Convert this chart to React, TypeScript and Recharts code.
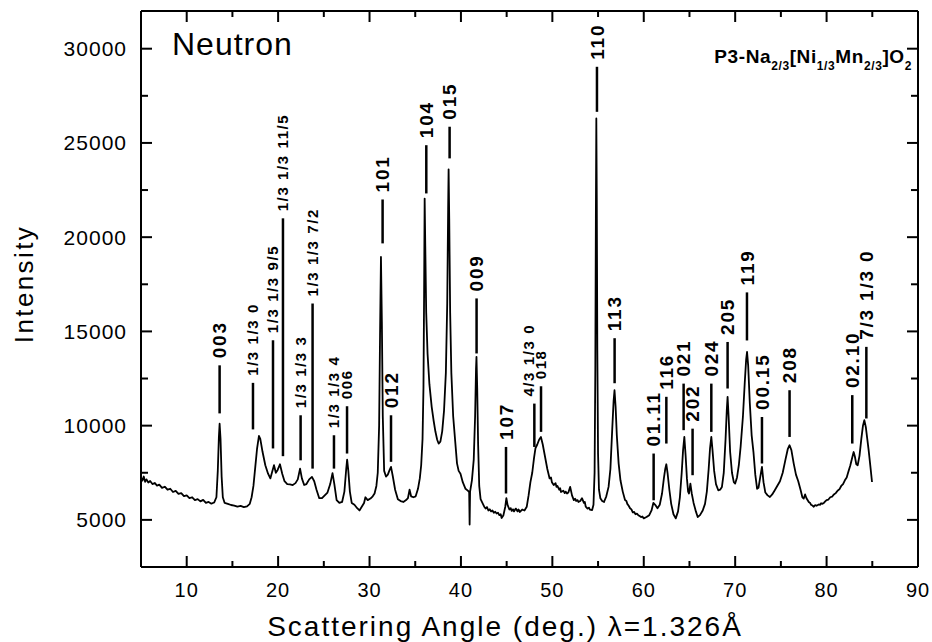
import React from 'react';
import { ComposedChart, Line, XAxis, YAxis, ReferenceLine } from 'recharts';

const FONT = 'Arial, "Liberation Sans", Helvetica, sans-serif';

/* ---------- diffraction pattern: [2θ (deg), counts] ---------- */
const lowAngle: [number, number][] = [
  [5.0, 7250], [5.15, 7080], [5.3, 7300], [5.45, 7020], [5.6, 7150], [5.8, 6980],
  [6.0, 7060], [6.25, 6900], [6.5, 6960], [6.75, 6820], [7.0, 6870], [7.3, 6700],
  [7.6, 6760], [7.9, 6600], [8.2, 6650], [8.5, 6480], [8.8, 6540], [9.1, 6380],
  [9.4, 6420], [9.7, 6260], [10.0, 6300], [10.3, 6150], [10.6, 6200], [10.9, 6050],
  [11.2, 6100], [11.5, 5980], [11.8, 6060], [12.1, 5900], [12.4, 5950], [12.7, 5860],
  [13.0, 5920], [13.25, 6200], [13.4, 7600], [13.52, 9400], [13.6, 10100], [13.7, 9300],
  [13.82, 7300], [13.95, 6200], [14.15, 5900], [14.5, 5850], [14.85, 5790], [15.2, 5760],
  [15.55, 5700], [15.9, 5740], [16.25, 5680], [16.6, 5720], [16.9, 5850], [17.1, 6200],
  [17.3, 6800], [17.5, 7800], [17.7, 8800], [17.9, 9450], [18.05, 9300], [18.3, 8600],
  [18.6, 7900], [18.9, 7450], [19.15, 7200], [19.35, 7550], [19.55, 7900], [19.75, 7500],
  [19.95, 7650], [20.2, 7950], [20.45, 7450], [20.7, 7050], [21.0, 6900], [21.3, 6880],
  [21.6, 6850], [21.9, 6950], [22.15, 7150], [22.4, 7720], [22.6, 7200], [22.85, 6850],
  [23.1, 6900], [23.4, 7150], [23.7, 7280], [23.95, 7050], [24.2, 6600], [24.5, 6150],
  [24.8, 6150], [25.1, 6300], [25.4, 6450], [25.7, 6900], [25.95, 7480], [26.15, 6900],
  [26.4, 6050], [26.7, 5900], [27.0, 5950], [27.25, 6500], [27.45, 7700], [27.55, 8200],
  [27.68, 7600], [27.85, 6500], [28.05, 5900], [28.35, 5800], [28.65, 5620], [28.9, 5500],
  [29.15, 5700], [29.4, 5900], [29.55, 6200], [29.8, 6050], [30.1, 6130], [30.35, 6250],
  [30.55, 6400], [30.75, 6800], [30.9, 7500],
];

const midAngle: [number, number][] = [
  [31.05, 10000], [31.15, 14800], [31.25, 18950], [31.35, 15500], [31.45, 10500], [31.6, 7600],
  [31.8, 7300], [32.0, 7400], [32.2, 7650], [32.35, 7810], [32.55, 7300], [32.8, 6600],
  [33.1, 6100], [33.4, 6000], [33.7, 5950], [34.0, 6050], [34.2, 6150], [34.38, 6600],
  [34.55, 6250], [34.8, 6200], [35.05, 6250], [35.3, 6650], [35.5, 7200], [35.65, 7900],
  [35.8, 9300], [35.9, 12000], [35.97, 17000], [36.03, 22050], [36.1, 19500], [36.2, 16000],
  [36.35, 13800], [36.55, 12200], [36.8, 11000], [37.0, 10300], [37.2, 9700], [37.4, 9250],
  [37.56, 9050], [37.75, 9150], [37.95, 9700], [38.15, 10800], [38.35, 12800], [38.5, 16500],
  [38.6, 21500], [38.65, 23600], [38.72, 21000], [38.82, 16000], [38.95, 12800], [39.15, 10500],
  [39.35, 9300], [39.57, 8000], [39.75, 7600], [39.95, 7450], [40.2, 7000], [40.5, 6650],
  [40.75, 6550], [40.9, 6480], [40.95, 4750], [41.0, 6500], [41.2, 7100], [41.4, 8200],
  [41.55, 10500], [41.65, 13000], [41.7, 13650], [41.78, 12000], [41.88, 9000], [42.0, 6800],
  [42.15, 6100], [42.4, 5850], [42.55, 5700], [42.7, 5600], [42.85, 5680], [43.0, 5500],
  [43.15, 5560], [43.3, 5450], [43.45, 5500], [43.6, 5380], [43.75, 5430], [43.9, 5340],
  [44.05, 5380], [44.2, 5250], [44.35, 5300], [44.45, 5100], [44.65, 5250], [44.85, 5700],
  [44.97, 6150], [45.1, 5800], [45.3, 5550], [45.45, 5620], [45.55, 5480], [45.7, 5560],
  [45.8, 5450], [46.0, 5600], [46.2, 5450], [46.3, 5550], [46.45, 5420], [46.7, 5550],
  [46.95, 5500], [47.2, 5700], [47.4, 6300], [47.6, 7000], [47.8, 7500], [48.0, 8300],
  [48.15, 8800], [48.35, 9000], [48.55, 9250], [48.75, 9400], [48.95, 9000], [49.2, 8350],
  [49.45, 7700], [49.7, 7200], [49.85, 7250], [49.95, 7000], [50.15, 6850], [50.35, 6950],
  [50.45, 6750], [50.55, 6800], [50.75, 6600], [50.85, 6680], [50.95, 6480], [51.2, 6550],
  [51.35, 6420], [51.45, 6500], [51.6, 6400], [51.75, 6450], [51.95, 6750], [52.15, 6300],
  [52.35, 6050], [52.5, 6120], [52.6, 6000], [52.75, 6050], [52.85, 5950], [53.05, 6000],
  [53.24, 6150], [53.45, 5900], [53.55, 5950], [53.65, 5700], [53.85, 5600], [54.0, 5650],
  [54.1, 5550], [54.35, 5520], [54.5, 5800], [54.62, 7500], [54.7, 13000], [54.76, 21000],
  [54.81, 26300], [54.86, 22000], [54.92, 14000], [55.0, 8500], [55.1, 6600], [55.25, 6150],
  [55.45, 6000], [55.65, 5950], [55.9, 6250], [56.15, 6750], [56.35, 7700], [56.55, 9800],
  [56.7, 11300], [56.8, 11880], [56.92, 11000], [57.05, 9500], [57.25, 8000], [57.45, 7100],
  [57.7, 6500], [57.95, 6050], [58.1, 6000], [58.2, 5850], [58.35, 5750], [58.5, 5620],
  [58.65, 5560], [58.8, 5400], [58.95, 5420], [59.1, 5300], [59.25, 5330], [59.4, 5250],
  [59.55, 5200], [59.7, 5150], [59.85, 5180], [60.0, 5080],
];

const highAngle: [number, number][] = [
  [60.3, 5150], [60.6, 5250], [60.85, 5500], [61.05, 5900], [61.25, 5800], [61.5, 5620],
  [61.75, 5800], [62.0, 6400], [62.2, 7200], [62.35, 7700], [62.47, 7950], [62.6, 7500],
  [62.8, 6600], [63.0, 5850], [63.25, 5300], [63.5, 5080], [63.75, 5450], [63.95, 6200],
  [64.15, 7500], [64.3, 8700], [64.44, 9400], [64.58, 8400], [64.72, 7200], [64.85, 6500],
  [64.95, 6400], [65.1, 6925], [65.25, 6400], [65.45, 5900], [65.7, 5450], [65.9, 5150],
  [66.15, 5250], [66.45, 5500], [66.7, 5850], [66.9, 6500], [67.1, 7700], [67.25, 8800],
  [67.39, 9400], [67.52, 8700], [67.7, 7600], [67.9, 6900], [68.15, 6570], [68.35, 6600],
  [68.55, 6750], [68.75, 7500], [68.95, 9300], [69.08, 10800], [69.17, 11525], [69.28, 10500],
  [69.45, 8600], [69.65, 7500], [69.85, 7000], [70.0, 6925], [70.2, 7250], [70.4, 7900],
  [70.6, 8900], [70.85, 10500], [71.05, 12300], [71.2, 13500], [71.3, 13910], [71.42, 13200],
  [71.6, 11200], [71.8, 9500], [72.0, 8600], [72.2, 7400], [72.4, 6650], [72.55, 6700],
  [72.75, 7300], [72.93, 7810], [73.1, 7000], [73.3, 6450], [73.55, 6300], [73.8, 6215],
  [74.05, 6350], [74.3, 6550], [74.6, 6800], [74.9, 7050], [75.2, 7500], [75.5, 8200],
  [75.75, 8750], [75.95, 8960], [76.15, 8700], [76.4, 8000], [76.65, 7400], [76.9, 7050],
  [77.15, 6600], [77.35, 6200], [77.5, 6130], [77.65, 6350], [77.8, 6150], [78.05, 5950],
  [78.2, 5900], [78.3, 5800], [78.45, 5760], [78.6, 5700], [78.75, 5780], [78.9, 5750],
  [79.15, 5820], [79.3, 5800], [79.4, 5880], [79.55, 5850], [79.7, 5900], [79.85, 5980],
  [80.0, 6050], [80.2, 6080], [80.4, 6200], [80.6, 6230], [80.8, 6350], [81.0, 6420],
  [81.2, 6550], [81.4, 6620], [81.6, 6800], [81.8, 6900], [82.0, 7100], [82.2, 7250],
  [82.35, 7500], [82.6, 7900], [82.8, 8300], [82.96, 8600], [83.1, 8350], [83.25, 7950],
  [83.4, 7900], [83.6, 8400], [83.8, 9300], [83.98, 10000], [84.13, 10290], [84.3, 9900],
  [84.45, 9300], [84.6, 8700], [84.8, 7800], [84.97, 7010],
];

/* ---------- reflection markers: [hkl, 2θ, marker bottom, marker top] ---------- */
const reflections: [string, number, number, number][] = [
  ['003', 13.6, 10650, 13200],
  ['1/3 1/3 0', 17.25, 9800, 12270],
  ['1/3 1/3 9/5', 19.44, 8790, 14530],
  ['1/3 1/3 11/5', 20.53, 8380, 21000],
  ['1/3 1/3 3', 22.46, 8160, 10550],
  ['1/3 1/3 7/2', 23.77, 7720, 16480],
  ['1/3 1/3 4', 26.11, 7720, 9490],
  ['006', 27.54, 8520, 11030],
  ['101', 31.43, 19670, 22000],
  ['012', 32.35, 8080, 10550],
  ['104', 36.21, 22320, 24880],
  ['015', 38.76, 24180, 25860],
  ['009', 41.71, 13830, 16750],
  ['107', 44.93, 6400, 8870],
  ['4/3 1/3 0', 48.03, 8870, 11170],
  ['018', 48.76, 9670, 12090],
  ['110', 54.88, 26650, 29040],
  ['113', 56.81, 12250, 14640],
  ['01.11', 61.08, 6040, 8520],
  ['116', 62.47, 9050, 11530],
  ['021', 64.36, 9760, 12230],
  ['202', 65.34, 7370, 9840],
  ['024', 67.39, 9670, 12230],
  ['205', 69.17, 11970, 14440],
  ['119', 71.29, 14520, 17070],
  ['00.15', 72.93, 7990, 10460],
  ['208', 75.95, 9400, 11880],
  ['02.10', 82.81, 9050, 11620],
  ['7/3 1/3 0', 84.35, 10380, 14180],
];

/* superlattice / weak reflections get the smaller font */
const smallLabels = new Set([
  '1/3 1/3 0', '1/3 1/3 9/5', '1/3 1/3 11/5', '1/3 1/3 3', '1/3 1/3 7/2',
  '1/3 1/3 4', '006', '4/3 1/3 0', '018',
]);
const labelNudge: Record<string, number> = { '4/3 1/3 0': -6 };

const xMajor = [10, 20, 30, 40, 50, 60, 70, 80, 90];
const xMinor = [15, 25, 35, 45, 55, 65, 75, 85];
const yMajor = [5000, 10000, 15000, 20000, 25000, 30000];
const yMinor = [7500, 12500, 17500, 22500, 27500];

const xTicks = [...xMajor, ...xMinor].sort((a, b) => a - b);
const yTicks = [...yMajor, ...yMinor].sort((a, b) => a - b);

const spectrum = [...lowAngle, ...midAngle, ...highAngle].map(([angle, counts]) => ({ angle, counts }));

/* ---------- frame layout ---------- */
const W = 932;
const H = 642;
// the mirrored top / right axes get 1px so recharts still draws them
const M = { top: 10, right: 13, bottom: 0, left: 0 };
const Y_AXIS_W = 141;
const X_AXIS_H = 75;
const FRAME_L = M.left + Y_AXIS_W;
const FRAME_R = W - M.right - 1;
const FRAME_T = M.top + 1;
const FRAME_B = H - M.bottom - X_AXIS_H;

/* ---------- tick renderers (ticks point into the frame) ---------- */
const BottomTick = ({ x, payload }: any) => {
  const major = xMajor.includes(payload.value);
  return (
    <g>
      <line x1={x} x2={x} y1={FRAME_B} y2={FRAME_B - (major ? 11 : 6)} stroke="#000" strokeWidth={2} />
      {major && (
        <text x={x} y={FRAME_B + 30} textAnchor="middle" fontFamily={FONT} fontSize={20} letterSpacing={1} fill="#000">
          {payload.value}
        </text>
      )}
    </g>
  );
};

const TopTick = ({ x, payload }: any) => {
  const major = xMajor.includes(payload.value);
  return <line x1={x} x2={x} y1={FRAME_T} y2={FRAME_T + (major ? 11 : 6)} stroke="#000" strokeWidth={2} />;
};

const LeftTick = ({ y, payload }: any) => {
  const major = yMajor.includes(payload.value);
  return (
    <g>
      <line x1={FRAME_L} x2={FRAME_L + (major ? 11 : 7)} y1={y} y2={y} stroke="#000" strokeWidth={2} />
      {major && (
        <text x={FRAME_L - 14} y={y} dy="0.36em" textAnchor="end" fontFamily={FONT} fontSize={21} letterSpacing={1} fill="#000">
          {payload.value}
        </text>
      )}
    </g>
  );
};

const RightTick = ({ y, payload }: any) => {
  const major = yMajor.includes(payload.value);
  return <line x1={FRAME_R} x2={FRAME_R - (major ? 11 : 7)} y1={y} y2={y} stroke="#000" strokeWidth={2} />;
};

/* ---------- rotated hkl label sitting on top of a marker ---------- */
const hklLabel = (hkl: string) => (props: any) => {
  const vb = props.viewBox;
  if (!vb) return null;
  const small = smallLabels.has(hkl);
  const fs = small ? 15 : 19;
  const x = vb.x + fs * 0.36 + (labelNudge[hkl] ?? 0);
  const y = vb.y - 7;
  return (
    <text
      x={x}
      y={y}
      transform={`rotate(-90 ${x} ${y})`}
      textAnchor="start"
      fontFamily={FONT}
      fontWeight="bold"
      fontSize={fs}
      letterSpacing={small ? 1.6 : 1.8}
      fill="#000"
    >
      {hkl}
    </text>
  );
};

const axisStroke = { stroke: '#000', strokeWidth: 2 };

export default function App() {
  return (
    <div style={{ position: 'absolute', left: 0, top: 0, width: W, height: H, background: '#fff' }}>
      <ComposedChart width={W} height={H} data={spectrum} margin={M}>
        <XAxis
          dataKey="angle"
          type="number"
          domain={[5, 90]}
          ticks={xTicks}
          interval={0}
          tickSize={0}
          tickMargin={0}
          tick={BottomTick}
          axisLine={axisStroke}
          tickLine={false}
          height={X_AXIS_H}
          allowDataOverflow
        />
        <XAxis
          xAxisId="top"
          dataKey="angle"
          orientation="top"
          type="number"
          domain={[5, 90]}
          ticks={xTicks}
          interval={0}
          tickSize={0}
          tickMargin={0}
          tick={TopTick}
          axisLine={axisStroke}
          tickLine={false}
          height={1}
          allowDataOverflow
        />
        <YAxis
          type="number"
          domain={[2500, 32000]}
          ticks={yTicks}
          interval={0}
          tickSize={0}
          tickMargin={0}
          tick={LeftTick}
          axisLine={axisStroke}
          tickLine={false}
          width={Y_AXIS_W}
          allowDataOverflow
        />
        <YAxis
          yAxisId="right"
          orientation="right"
          type="number"
          domain={[2500, 32000]}
          ticks={yTicks}
          interval={0}
          tickSize={0}
          tickMargin={0}
          tick={RightTick}
          axisLine={axisStroke}
          tickLine={false}
          width={1}
          allowDataOverflow
        />

        {/* carrier series so the mirrored top/right axes get drawn */}
        <Line
          xAxisId="top"
          yAxisId="right"
          dataKey="counts"
          dot={false}
          stroke="none"
          legendType="none"
          isAnimationActive={false}
        />
        <Line
          dataKey="counts"
          type="linear"
          dot={false}
          stroke="#000"
          strokeWidth={1.8}
          strokeLinejoin="round"
          isAnimationActive={false}
        />

        {reflections.map(([hkl, angle, from, to]) => (
          <ReferenceLine
            key={hkl}
            segment={[{ x: angle, y: from }, { x: angle, y: to }]}
            stroke="#000"
            strokeWidth={2.5}
            label={hklLabel(hkl)}
          />
        ))}

        <text x={172} y={55} fontFamily={FONT} fontSize={32} letterSpacing={1} fill="#000">
          Neutron
        </text>
        <text x={912} y={63} textAnchor="end" fontFamily={FONT} fontWeight="bold" fontSize={19} letterSpacing={0.6} fill="#000">
          P3-Na
          <tspan fontSize={12} dy={7}>2/3</tspan>
          <tspan dy={-7}>[Ni</tspan>
          <tspan fontSize={12} dy={7}>1/3</tspan>
          <tspan dy={-7}>Mn</tspan>
          <tspan fontSize={12} dy={7}>2/3</tspan>
          <tspan dy={-7}>]O</tspan>
          <tspan fontSize={12} dy={7}>2</tspan>
        </text>
        <text x={505} y={636} textAnchor="middle" fontFamily={FONT} fontSize={28} letterSpacing={2} fill="#000">
          Scattering Angle (deg.) λ=1.326Å
        </text>
        <text
          x={33}
          y={284}
          transform="rotate(-90 33 284)"
          textAnchor="middle"
          fontFamily={FONT}
          fontSize={26}
          letterSpacing={2.4}
          fill="#000"
        >
          Intensity
        </text>
      </ComposedChart>
    </div>
  );
}
